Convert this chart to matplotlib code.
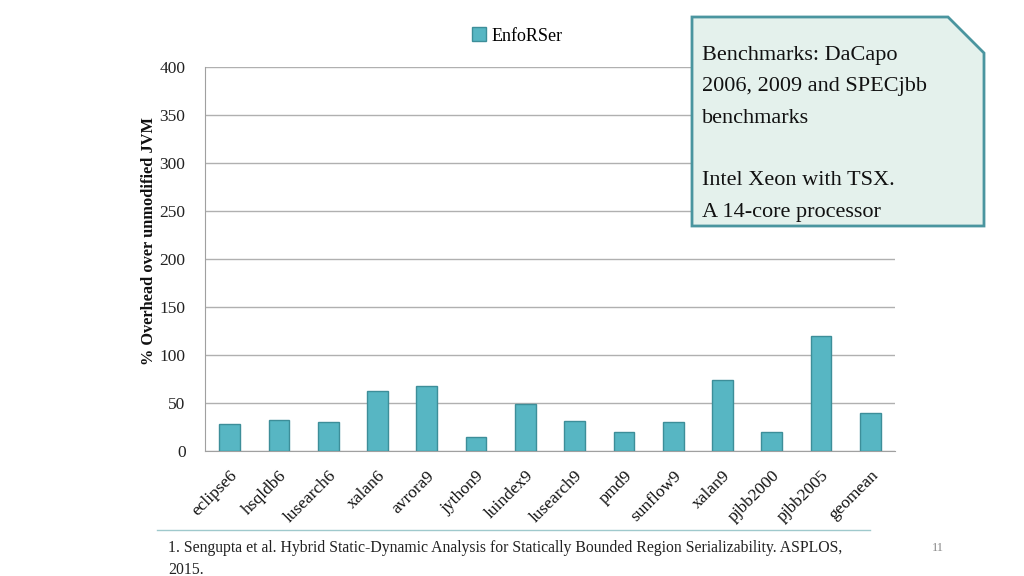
import matplotlib.pyplot as plt
import matplotlib.patches as mpatches
import numpy as np

benchmarks = ["eclipse6", "hsqldb6", "lusearch6", "xalan6", "avrora9", "jython9",
              "luindex9", "lusearch9", "pmd9", "sunflow9", "xalan9", "pjbb2000",
              "pjbb2005", "geomean"]
overhead = [28, 32, 30, 62, 68, 15, 49, 31, 20, 30, 74, 20, 120, 40]
yticks = [0, 50, 100, 150, 200, 250, 300, 350, 400]

plt.rcParams['font.family'] = ['Liberation Serif', 'DejaVu Serif']

fig = plt.figure(figsize=(10.24, 5.76), dpi=100)
ax = fig.add_axes([205/1024, 1 - 451/576, 690/1024, 384/576])

ind = np.arange(len(benchmarks))
ax.bar(ind, overhead, 0.42, color="#57b6c3", edgecolor="#3d8e99", linewidth=1,
       label="EnfoRSer", zorder=3)
ax.set_xlim(-0.5, len(benchmarks) - 0.5)
ax.set_ylim(0, 400)
ax.set_yticks(yticks)
ax.set_yticklabels([str(t) for t in yticks], fontsize=12.5, color="#222222")
ax.set_xticks(ind)
ax.set_xticklabels(benchmarks, rotation=45, ha="right", rotation_mode="anchor",
                   fontsize=12.5, color="#111111")
ax.tick_params(axis="y", length=0, pad=14)
ax.tick_params(axis="x", length=0, pad=12)
ax.yaxis.grid(True, color="#b0b0b0", linewidth=1, zorder=0)
for s in ["top", "right"]:
    ax.spines[s].set_visible(False)
ax.spines["left"].set_color("#a0a0a0")
ax.spines["bottom"].set_color("#a0a0a0")
ax.set_ylabel("% Overhead over unmodified JVM", fontsize=11.8, fontweight="bold",
              color="#111111")
ax.yaxis.set_label_coords(-0.07, 0.547)

leg = fig.legend(loc="center", bbox_to_anchor=(517/1024, 1 - 36/576), frameon=False,
                 fontsize=13, handlelength=0.8, handleheight=0.8, handletextpad=0.3)

# note box with snipped corner
bx0, bx1, by0, by1, cut = 692, 984, 226, 17, 36
pts = [(bx0, by0), (bx0, by1), (bx1 - cut, by1), (bx1, by1 + cut), (bx1, by0)]
pts = [(x / 1024, 1 - y / 576) for x, y in pts]
box = mpatches.Polygon(pts, closed=True, transform=fig.transFigure,
                       facecolor="#e4f1ec", edgecolor="#4a959f", linewidth=2)
fig.patches.append(box)
fig.text(702/1024, 1 - 46/576,
         "Benchmarks: DaCapo\n2006, 2009 and SPECjbb\nbenchmarks\n\nIntel Xeon with TSX.\nA 14-core processor",
         fontsize=16, va="top", ha="left", color="#111111", linespacing=1.88)

# footer
fig.add_artist(plt.Line2D([157/1024, 870/1024], [1 - 530/576, 1 - 530/576],
                          color="#9fc9cc", linewidth=1))
fig.text(168/1024, 1 - 540/576,
         "1. Sengupta et al. Hybrid Static-Dynamic Analysis for Statically Bounded Region Serializability. ASPLOS,\n2015.",
         fontsize=11.3, va="top", ha="left", color="#222222", linespacing=1.5)
fig.text(938/1024, 1 - 548/576, "11", fontsize=9, va="center", ha="center", color="#888888")

plt.savefig("out.png", dpi=100)
